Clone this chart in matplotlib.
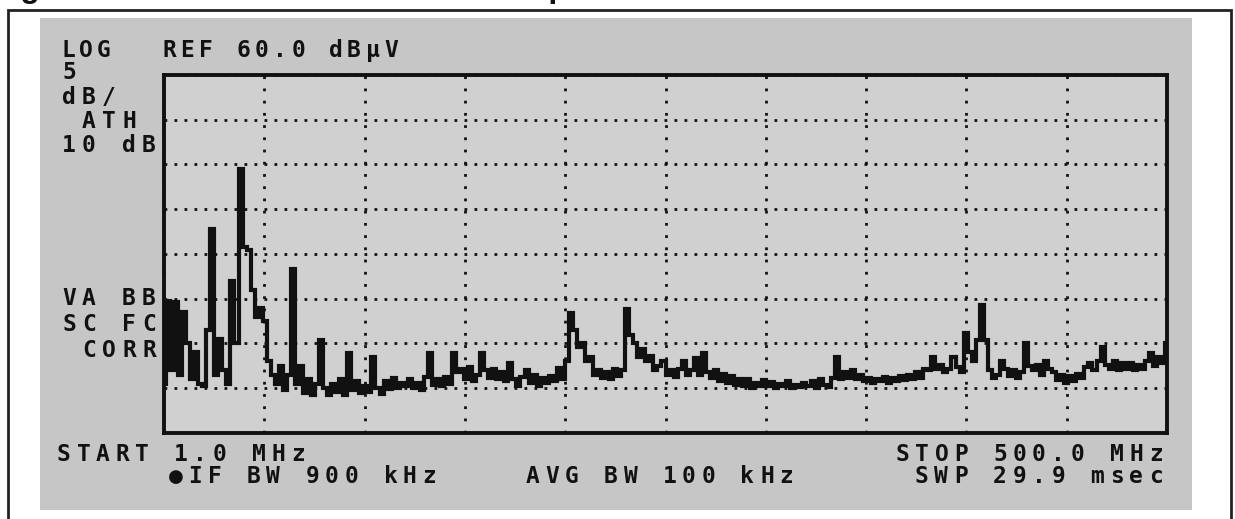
"""Spectrum analyzer screen capture, redrawn with matplotlib."""

import matplotlib

matplotlib.use("Agg")

import matplotlib.pyplot as plt
import numpy as np
from matplotlib.patches import Rectangle

# --- data -----------------------------------------------------------------
START_MHZ = 1.0
STOP_MHZ = 500.0
REF_DBUV = 60.0
DB_PER_DIV = 5.0
N_VDIV = 8
N_HDIV = 10

# trace level (dBuV), evenly spaced from START to STOP
TRACE_DBUV = [
    25.5, 34.8, 27.0, 34.6, 26.5, 33.5, 30.0, 26.0, 29.0, 25.5,
    25.2, 31.5, 42.8, 26.5, 30.5, 27.0, 25.5, 37.0, 30.0, 49.5,
    40.8, 40.5, 36.0, 33.0, 34.0, 32.5, 28.0, 26.5, 25.5, 27.5,
    24.8, 26.5, 38.3, 25.5, 27.5, 24.5, 26.0, 24.3, 25.5, 30.4,
    25.0, 24.2, 25.5, 24.6, 26.0, 24.3, 28.9, 24.8, 25.8, 24.5,
    25.3, 24.6, 28.5, 25.0, 24.4, 25.8, 24.9, 26.2, 25.0, 25.6,
    25.2, 26.0, 25.0, 25.6, 24.8, 26.3, 28.9, 25.4, 26.0, 25.2,
    26.3, 25.5, 28.9, 26.8, 27.2, 26.0, 27.4, 25.8, 26.5, 28.9,
    27.0, 26.2, 27.2, 26.0, 26.8, 25.8, 27.8, 26.0, 25.3, 26.3,
    27.0, 25.6, 26.5, 25.2, 26.2, 25.6, 26.4, 25.8, 27.3, 26.0,
    28.1, 33.4, 31.5, 29.6, 30.0, 28.0, 28.5, 26.5, 27.0, 26.2,
    26.8, 26.0, 27.2, 26.4, 27.0, 33.8, 31.0, 30.0, 28.5, 29.4,
    28.0, 28.6, 27.0, 27.5, 28.1, 26.5, 27.0, 26.3, 27.2, 28.0,
    26.5, 27.0, 28.4, 26.5, 28.9, 26.8, 26.2, 27.0, 25.8, 26.6,
    25.6, 26.4, 25.4, 26.0, 25.2, 26.0, 25.0, 25.6, 25.3, 25.9,
    25.2, 25.7, 25.0, 25.5, 25.2, 25.8, 25.0, 25.4, 25.1, 25.6,
    25.2, 25.8, 25.0, 26.0, 25.4, 25.1, 26.2, 28.5, 26.0, 26.8,
    26.2, 27.0, 26.0, 26.5, 25.8, 26.2, 25.6, 26.0, 25.8, 26.3,
    25.6, 26.2, 25.8, 26.4, 25.9, 26.5, 26.0, 26.8, 26.2, 27.2,
    27.0, 28.5, 27.2, 27.6, 26.8, 27.2, 28.5, 27.4, 26.8, 31.2,
    29.0, 28.0, 30.4, 34.3, 30.4, 27.0, 26.2, 26.5, 28.0, 27.2,
    26.4, 27.0, 26.2, 26.8, 30.1, 27.5, 27.0, 27.6, 26.5, 28.1,
    27.2, 26.8, 25.9, 26.5, 25.6, 26.4, 25.8, 26.6, 26.2, 27.4,
    27.8, 27.0, 28.0, 29.6, 27.6, 27.2, 28.0, 27.0, 27.8, 27.2,
    27.8, 27.0, 27.6, 27.2, 28.0, 28.9, 27.5, 28.5, 27.8, 30.1,
]

LEFT_LABELS_TOP = ["5", "dB/", " ATH", "10 dB"]
LEFT_LABELS_LOW = ["VA BB", "SC FC", " CORR"]
HEADER = "REF 60.0 dBµV"
FOOTER_LEFT = ["START 1.0 MHz", "●IF BW 900 kHz"]
FOOTER_MID = "AVG BW 100 kHz"
FOOTER_RIGHT = ["STOP 500.0 MHz", "SWP 29.9 msec"]
CAPTION = ["Figure 5. Conducted Emission", "Spectrum"]

# --- style ----------------------------------------------------------------
INK = "#111111"
SCREEN = "#c6c6c6"
GRATICULE = "#d0d0d0"
MONO = ["DejaVu Sans Mono", "DejaVu Sans"]
W, H = 1235, 519
PAD = 40  # extra rows above the page, cropped away after drawing


def _screen_text(ax, x, y, s, pitch=19.5, size=16.5):
    """Draw a string on a fixed character grid, like the instrument font."""
    for i, ch in enumerate(s):
        if ch == " ":
            continue
        ax.text(x + i * pitch, y, ch, ha="left", va="baseline", fontsize=size,
                fontweight="bold", family=MONO, color=INK)


def _right_text(ax, x_right, y, s, pitch=19.5):
    _screen_text(ax, x_right - 14 - (len(s) - 1) * pitch, y, s, pitch)


fig = plt.figure(figsize=(W / 100, (H + PAD) / 100), dpi=100)
fig.patch.set_facecolor("white")

# full-figure axes in pixel units for frame, screen and annotation text
bg = fig.add_axes([0, 0, 1, 1])
bg.set_xlim(0, W)
bg.set_ylim(H, -PAD)
bg.axis("off")
bg.add_patch(Rectangle((40, 18), 1152, 492, facecolor=SCREEN, edgecolor="none"))
bg.plot([8, 8, 1231, 1231], [H + 5, 10, 10, H + 5], color="#222222", lw=2.0,
        solid_joinstyle="miter")

# caption line above the frame; only its lowest part falls inside the page
bg.text(-8, -3, CAPTION[0], ha="left", va="baseline", fontsize=23,
        fontweight="bold", family="Liberation Sans", color=INK)
bg.text(527, -3, CAPTION[1], ha="left", va="baseline", fontsize=23,
        fontweight="bold", family="Liberation Sans", color=INK)

# header and side annotations
_screen_text(bg, 61, 57, "LOG", pitch=18)
_screen_text(bg, 162, 57, HEADER, pitch=18.5)
for k, label in enumerate(LEFT_LABELS_TOP):
    _screen_text(bg, 62, 79 + k * 24.5, label, pitch=20)
for k, label in enumerate(LEFT_LABELS_LOW):
    _screen_text(bg, 62, 305 + k * 26, label, pitch=20)

# footer
_screen_text(bg, 57, 461, FOOTER_LEFT[0])
_screen_text(bg, 169, 483, FOOTER_LEFT[1])
_screen_text(bg, 526, 483, FOOTER_MID)
_right_text(bg, 1163, 461, FOOTER_RIGHT[0])
_right_text(bg, 1163, 483, FOOTER_RIGHT[1])

# graticule
x0, x1, y0, y1 = 164, 1167, 75, 433
FH = H + PAD
ax = fig.add_axes([x0 / W, (H - y1) / FH, (x1 - x0) / W, (y1 - y0) / FH])
ax.set_facecolor(GRATICULE)
bottom_db = REF_DBUV - N_VDIV * DB_PER_DIV
ax.set_xlim(START_MHZ, STOP_MHZ)
ax.set_ylim(bottom_db, REF_DBUV)
ax.set_xticks(np.linspace(START_MHZ, STOP_MHZ, N_HDIV + 1))
ax.set_yticks(np.arange(bottom_db, REF_DBUV + 0.1, DB_PER_DIV))
ax.tick_params(length=0, labelbottom=False, labelleft=False)
ax.set_axisbelow(True)
ax.xaxis.grid(True, color=INK, lw=2.0, linestyle=(0, (1, 3.4)))
ax.yaxis.grid(True, color=INK, lw=2.0, linestyle=(0, (1, 2.6)))
for side in ax.spines.values():
    side.set_linewidth(2.8)
    side.set_color(INK)

freq = np.linspace(START_MHZ, STOP_MHZ, len(TRACE_DBUV))
ax.plot(freq, TRACE_DBUV, color=INK, lw=3.0, drawstyle="steps-mid",
        solid_joinstyle="miter")

# draw on the tall canvas, then keep the page part only
fig.canvas.draw()
page = np.asarray(fig.canvas.buffer_rgba())[PAD:, :, :3]
plt.imsave("out.png", page)
